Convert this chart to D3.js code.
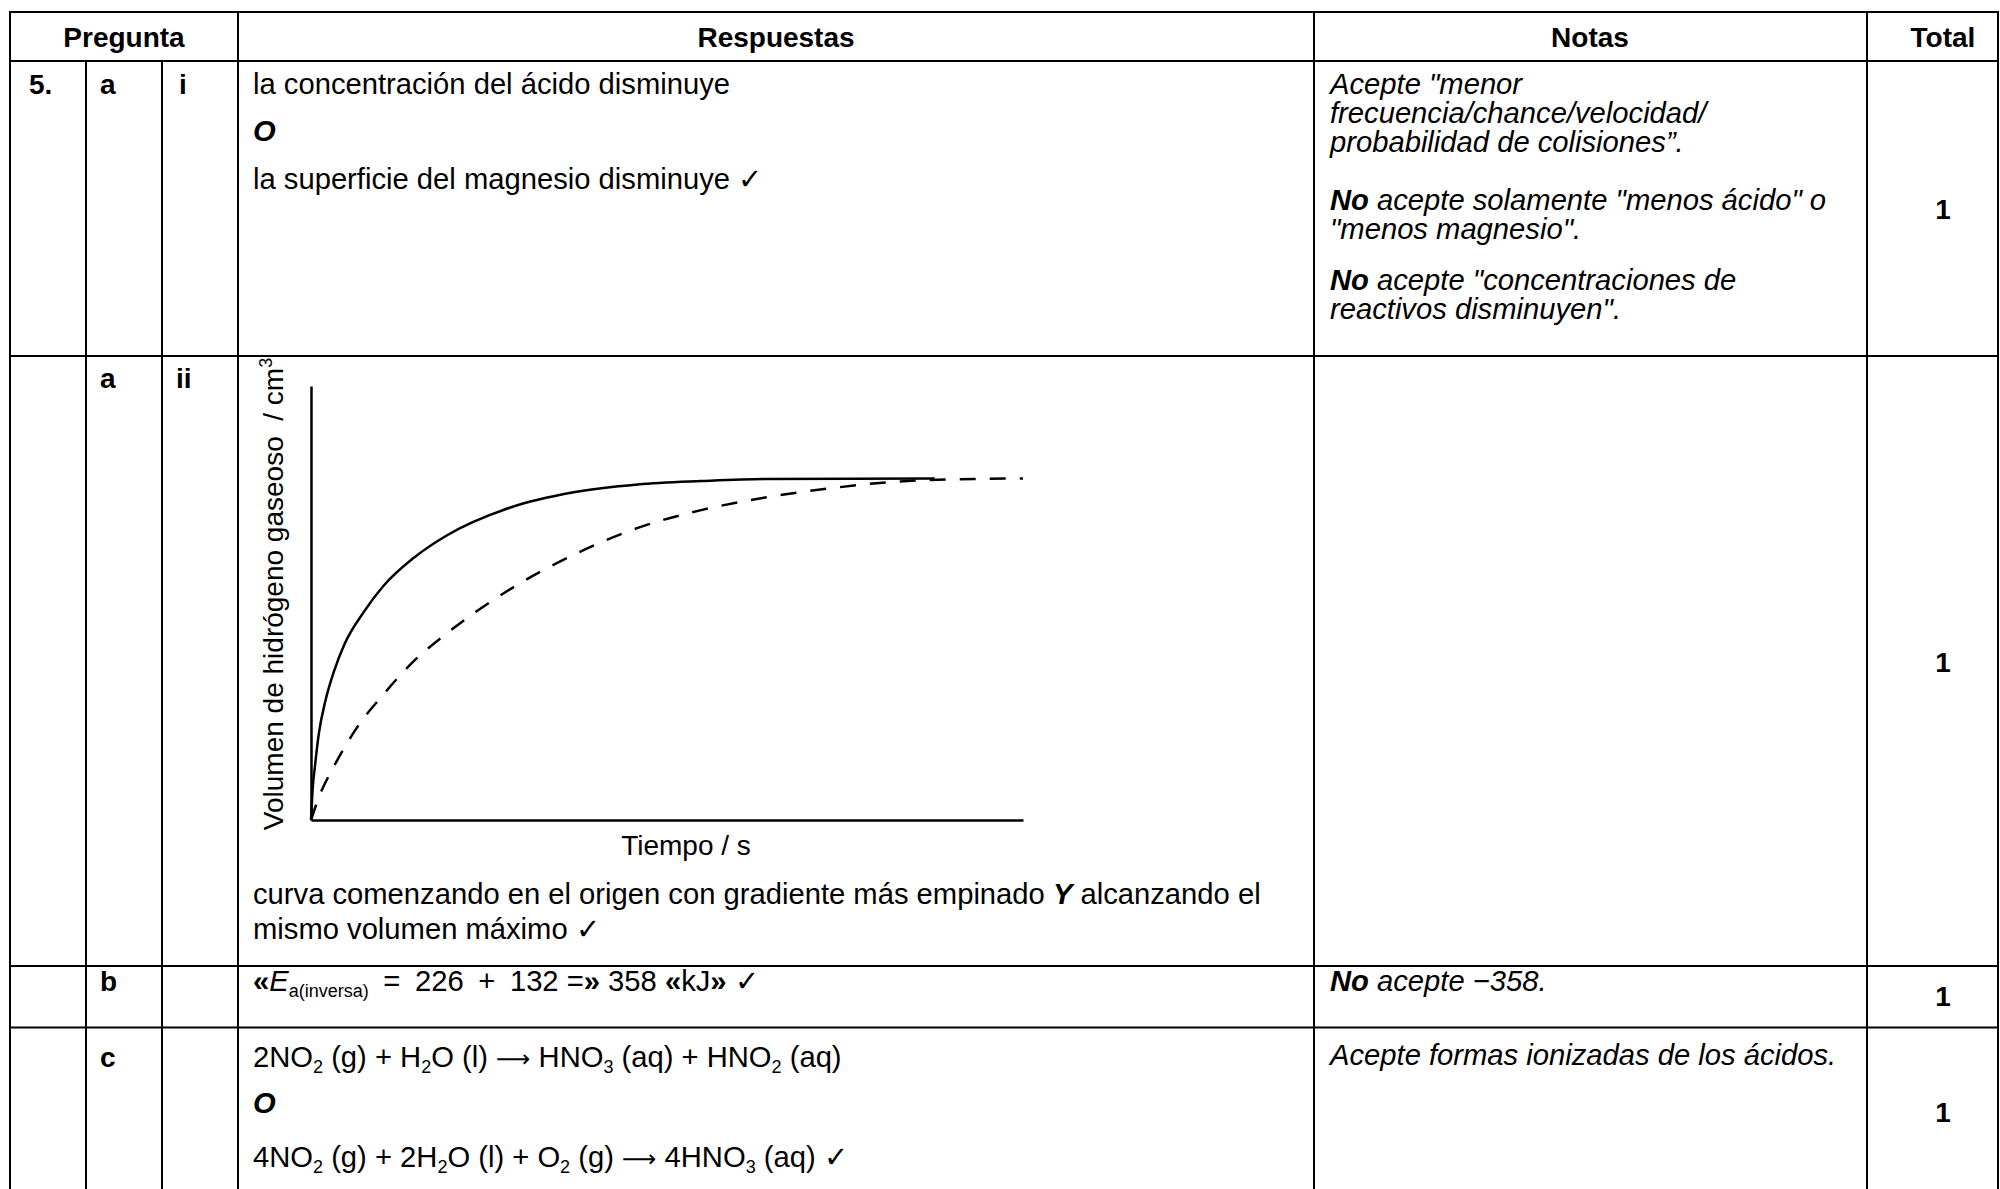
<!DOCTYPE html>
<html>
<head>
<meta charset="utf-8">
<script src="https://cdn.jsdelivr.net/npm/d3@7"></script>
<style>
    html, body { margin: 0; padding: 0; background: #fff; }
    svg text { white-space: pre; }
</style>
</head>
<body>
<div id="graph"></div>
<script>
"use strict";
(function() {
    // time (arbitrary units) and volume (% of axis height)
    const solidTime = [0, 0.21, 0.57, 1.1, 2.0, 3.3, 4.7, 7.4, 10.1, 14.5, 19.0, 28.0, 36.9, 45.9, 54.8, 63.8, 87.6];
    const solidVolume = [0, 6.7, 12.6, 19.9, 27.3, 34.6, 40.5, 47.9, 53.8, 60.5, 65.5, 72.0, 75.5, 77.3, 78.1, 78.6, 78.7];
    const dashedTime = [0, 1.1, 3.3, 6.5, 10.1, 14.5, 19.0, 28.0, 36.9, 45.9, 54.8, 63.8, 72.8, 81.7, 88.0, 100];
    const dashedVolume = [0, 5.2, 12.6, 21.4, 28.8, 36.7, 42.9, 53.2, 61.1, 67.3, 71.4, 74.3, 76.4, 77.9, 78.4, 78.7];

    const headerLabels = ["Pregunta", "Respuestas", "Notas", "Total"];
    const totals = ["1", "1", "1", "1"];

    const svgSize = { width: 2000, height: 1189 };
    const font = "'Liberation Sans', Arial, Helvetica, sans-serif";
    const fs = 28;
    const bodyFs = 29.2;
    const colX = [10, 86, 162, 238, 1314, 1867, 1998];
    const rowY = [12, 61, 356, 966, 1027.5, 1200];
    const en = "\u2002";

    window.addEventListener("load", init);

    function init() {
        const svg = d3.select("#graph")
            .append("svg")
                .attr("width", svgSize.width)
                .attr("height", svgSize.height)
                .attr("font-family", font)
                .attr("font-size", fs);

        drawGrid(svg);
        drawTexts(svg);
        drawPlot(svg);
    }

    function drawGrid(svg) {
        const g = svg.append("g").attr("stroke", "#000").attr("stroke-width", 2);
        rowY.slice(0, 5).forEach(y => {
            g.append("line").attr("x1", colX[0] - 1).attr("x2", colX[6] + 1)
                .attr("y1", y).attr("y2", y);
        });
        colX.forEach((x, i) => {
            const top = (i === 1 || i === 2) ? rowY[1] : rowY[0];
            g.append("line").attr("x1", x).attr("x2", x)
                .attr("y1", top - 1).attr("y2", rowY[5]);
        });
    }

    // parts: [{t, b, i, sub, sup, arrow}]
    function rich(svg, x, y, parts, anchor, size) {
        const t = svg.append("text").attr("x", x).attr("y", y)
            .attr("font-size", size || bodyFs)
            .attr("text-anchor", anchor || "start");
        let shift = 0;
        parts.forEach(p => {
            const s = t.append("tspan").text(p.t);
            let want = 0;
            if (p.sub) { want = 6; s.attr("font-size", 18); }
            if (p.sup) { want = -11; s.attr("font-size", 18); }
            if (p.arrow) { s.attr("font-family", "'DejaVu Sans', sans-serif").attr("font-size", 24); }
            if (want !== shift) { s.attr("dy", want - shift); shift = want; }
            if (p.b) s.attr("font-weight", "bold");
            if (p.i) s.attr("font-style", "italic");
        });
        return t;
    }

    function drawTexts(svg) {
        const headX = [124, 776, 1590, 1943];
        headerLabels.forEach((h, i) => {
            svg.append("text").attr("x", headX[i]).attr("y", 47)
                .attr("text-anchor", "middle").attr("font-weight", "bold").text(h);
        });

        // question labels
        const q = [
            ["5.", 29, 94], ["a", 100, 94], ["i", 179, 94],
            ["a", 100, 388], ["ii", 176, 388],
            ["b", 100, 991],
            ["c", 100, 1067]
        ];
        q.forEach(d => {
            svg.append("text").attr("x", d[1]).attr("y", d[2])
                .attr("font-weight", "bold").text(d[0]);
        });

        const tx = 253;
        // row 1 answers
        rich(svg, tx, 94, [{t: "la concentración del ácido disminuye"}]);
        rich(svg, tx, 141, [{t: "O", b: true, i: true}]);
        rich(svg, tx, 189, [{t: "la superficie del magnesio disminuye ✓"}]);

        // row 1 notes
        const nx = 1330;
        rich(svg, nx, 94, [{t: "Acepte \"menor", i: true}]);
        rich(svg, nx, 123, [{t: "frecuencia/chance/velocidad/", i: true}]);
        rich(svg, nx, 152, [{t: "probabilidad de colisiones”.", i: true}]);
        rich(svg, nx, 210, [{t: "No", b: true, i: true}, {t: " acepte solamente \"menos ácido\" o", i: true}]);
        rich(svg, nx, 239, [{t: "\"menos magnesio\".", i: true}]);
        rich(svg, nx, 290, [{t: "No", b: true, i: true}, {t: " acepte \"concentraciones de", i: true}]);
        rich(svg, nx, 319, [{t: "reactivos disminuyen\".", i: true}]);

        // row 2 answers under the plot
        rich(svg, tx, 904, [{t: "curva comenzando en el origen con gradiente más empinado "},
            {t: "Y", b: true, i: true}, {t: " alcanzando el"}]);
        rich(svg, tx, 939, [{t: "mismo volumen máximo ✓"}]);

        // row 3
        rich(svg, tx, 991, [{t: "«", b: true}, {t: "E", i: true}, {t: "a(inversa)", sub: true},
            {t: en + "=" + en + "226" + en + "+" + en + "132 ="}, {t: "»", b: true}, {t: " 358 "}, {t: "«", b: true},
            {t: "kJ"}, {t: "»", b: true}, {t: " ✓"}]);
        rich(svg, nx, 991, [{t: "No", b: true, i: true}, {t: " acepte −358.", i: true}]);

        // row 4
        rich(svg, tx, 1067, [{t: "2NO"}, {t: "2", sub: true}, {t: " (g) + H"}, {t: "2", sub: true},
            {t: "O (l) "}, {t: "⟶", arrow: true}, {t: " HNO"}, {t: "3", sub: true},
            {t: " (aq) + HNO"}, {t: "2", sub: true}, {t: " (aq)"}]);
        rich(svg, tx, 1113, [{t: "O", b: true, i: true}]);
        rich(svg, tx, 1167, [{t: "4NO"}, {t: "2", sub: true}, {t: " (g) + 2H"}, {t: "2", sub: true},
            {t: "O (l) + O"}, {t: "2", sub: true}, {t: " (g) "}, {t: "⟶", arrow: true},
            {t: " 4HNO"}, {t: "3", sub: true}, {t: " (aq) ✓"}]);
        rich(svg, nx, 1065, [{t: "Acepte formas ionizadas de los ácidos.", i: true}]);

        const totalY = [219, 672, 1006, 1122];
        totals.forEach((v, i) => {
            svg.append("text").attr("x", 1943).attr("y", totalY[i])
                .attr("text-anchor", "middle").attr("font-weight", "bold").text(v);
        });
    }

    function drawPlot(svg) {
        const xScale = d3.scaleLinear().domain([0, 100]).range([311, 1023]);
        const yScale = d3.scaleLinear().domain([0, 100]).range([820, 386]);

        const axisX = svg.append("g")
            .attr("transform", "translate(0," + yScale(0) + ")")
            .call(d3.axisBottom(xScale).tickValues([]).tickSizeOuter(0));
        const axisY = svg.append("g")
            .attr("transform", "translate(" + xScale(0) + ",0)")
            .call(d3.axisLeft(yScale).tickValues([]).tickSizeOuter(0));
        [axisX, axisY].forEach(a => a.select(".domain")
            .attr("stroke", "#000").attr("stroke-width", 2.5));

        const line = d3.line()
            .x(d => xScale(d[0]))
            .y(d => yScale(d[1]))
            .curve(d3.curveMonotoneX);

        const solid = solidTime.map((t, i) => [t, solidVolume[i]]);
        const dashed = dashedTime.map((t, i) => [t, dashedVolume[i]]);

        svg.append("path").datum(dashed)
            .attr("d", line)
            .attr("fill", "none")
            .attr("stroke", "#000")
            .attr("stroke-width", 2.5)
            .attr("stroke-dasharray", "16,14");

        svg.append("path").datum(solid)
            .attr("d", line)
            .attr("fill", "none")
            .attr("stroke", "#000")
            .attr("stroke-width", 2.5);

        rich(svg, 686, 855, [{t: "Tiempo / s"}], "middle", fs);

        rich(svg, 0, 0, [{t: "Volumen de hidrógeno gaseoso  / cm"}, {t: "3", sup: true}], "middle", fs)
            .attr("transform", "translate(283,594) rotate(-90)");
    }
})();
</script>
</body>
</html>
